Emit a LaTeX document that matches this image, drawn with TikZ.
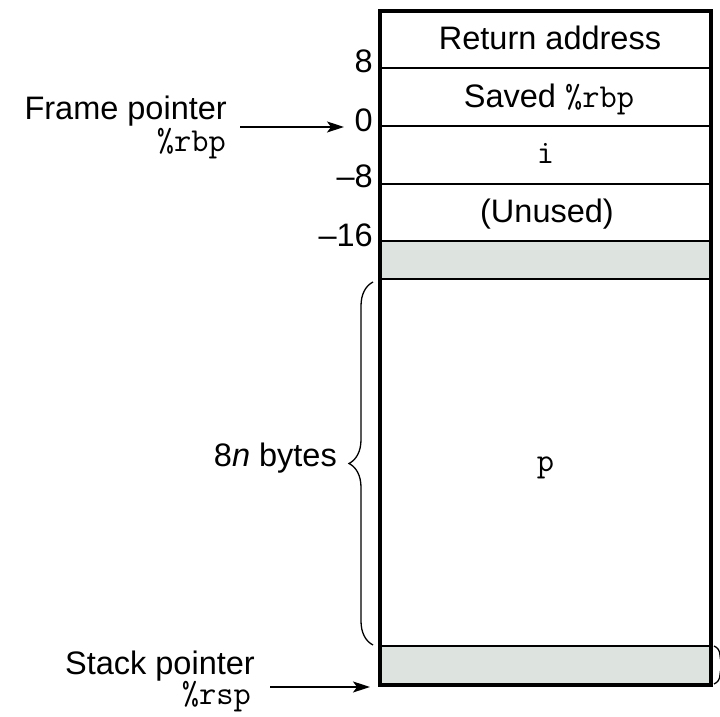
\documentclass[tikz,border=0pt]{standalone}
\usepackage{fontspec}
\setmainfont{Liberation Sans}
\usetikzlibrary{arrows.meta,decorations.pathreplacing}
\definecolor{slotgray}{RGB}{221,227,223}
% register names in a typewriter face
\newcommand{\regname}[1]{{\fontsize{33.5}{38}\selectfont\ttfamily #1}}
\tikzset{
  big/.style={font=\fontsize{32.5}{38}\selectfont, inner sep=0pt},
  celltext/.style={big, anchor=base},
  offset/.style={big, anchor=base east},
  side/.style={big, anchor=base east},
  frameline/.style={line width=4pt},
  thinline/.style={line width=1.3pt},
  midline/.style={line width=2pt},
  ptr/.style={line width=1.4pt, -{Stealth[length=17pt,width=11pt,inset=4pt]}},
  bracestyle/.style={line width=1.3pt, decorate, decoration={brace, amplitude=#1}},
}
\begin{document}
\begin{tikzpicture}[x=1pt,y=1pt]
\useasboundingbox (0,0) rectangle (720,717);
\begin{scope}
\clip (0,0) rectangle (720,717);

% shaded padding slots
\fill[slotgray] (380,476) rectangle (711,438);
\fill[slotgray] (380,71) rectangle (711,32);

% slot boundaries
\draw[thinline] (380,649) -- (711,649);
\draw[thinline] (380,591) -- (711,591);
\draw[thinline] (380,533) -- (711,533);
\draw[midline] (380,476) -- (711,476);
\draw[midline] (380,438) -- (711,438);
\draw[midline] (380,71) -- (711,71);

% outer frame
\draw[frameline] (380,706) rectangle (711,32);

% slot contents
\node[celltext] (ret) at (550,667) {Return address};
\node[celltext] (saved) at (549,609) {Saved \regname{\%rbp}};
\node[celltext] (ivar) at (545.5,553) {\regname{i}};
\node[celltext] (unused) at (547,494) {(Unused)};
\node[celltext] (parr) at (545.5,245) {\regname{p}};

% offsets from the frame pointer
\node[offset] (o8) at (373,644) {8};
\node[offset] (o0) at (373,585) {0};
\node[offset] (om8) at (373,529) {–8};
\node[offset] (om16) at (373,470) {–16};

% frame pointer
\node[side] (fp) at (227,597) {Frame pointer};
\node[side] (fpreg) at (226,565) {\regname{\%rbp}};
\coordinate (fptail) at (240,590);
\coordinate (fphead) at (344,590);
\draw[ptr] (fptail) -- (fphead);

% stack pointer
\node[side] (sp) at (255,42) {Stack pointer};
\node[side] (spreg) at (251,12) {\regname{\%rsp}};
\coordinate (sptail) at (270,30);
\coordinate (sphead) at (370,30);
\draw[ptr] (sptail) -- (sphead);

% size of the array
\coordinate (bl) at (373,72);
\coordinate (bt) at (373,435);
\draw[bracestyle=24pt] (bl) -- (bt);
\node[side] (nbytes) at (337,250) {8\textit{n} bytes};

% brace at the right of the bottom slot
\coordinate (rbt) at (714,71);
\coordinate (rbb) at (714,33);
\draw[bracestyle=12pt] (rbt) -- (rbb);
\end{scope}
\end{tikzpicture}
\end{document}
